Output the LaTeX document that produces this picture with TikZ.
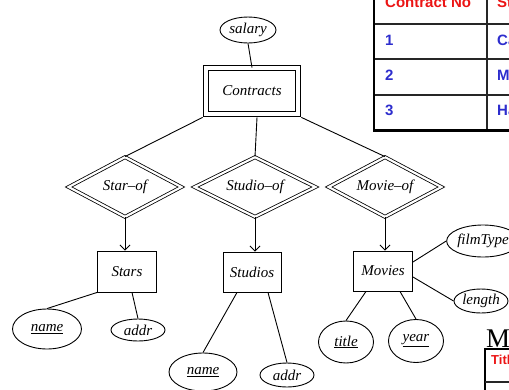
\documentclass[tikz,border=0pt]{standalone}
\usepackage{fontspec}
\newfontfamily\tabfont{Liberation Sans}
\newfontfamily\timesfont[Ligatures=TeX]{Liberation Serif}
\usetikzlibrary{shapes.geometric,arrows.meta}
\definecolor{tabred}{RGB}{235,20,20}
\definecolor{tabblue}{RGB}{45,45,205}
\begin{document}
\begin{tikzpicture}[x=1pt,y=-1pt,
  er/.style={font=\timesfont\fontsize{15}{17}\selectfont\itshape, inner sep=0pt},
  attr/.style={er, ellipse, draw, line width=0.9pt},
  ent/.style={er, rectangle, draw, line width=0.9pt},
  rel/.style={er, diamond, draw, double, double distance=2.2pt, line width=0.8pt, aspect=2},
  contract/.style={er, rectangle, draw, double, double distance=4.5pt, line width=0.8pt},
  link/.style={line width=0.9pt},
  isa/.style={link, -{Straight Barb[length=5pt,width=10pt]}},
  th/.style={font=\tabfont\bfseries\fontsize{15}{17}\selectfont, text=tabred, anchor=base west, inner sep=0pt},
  td/.style={font=\tabfont\bfseries\fontsize{15}{17}\selectfont, text=tabblue, anchor=base west, inner sep=0pt},
  thin grid/.style={line width=1.2pt, draw=black!85},
  thick grid/.style={line width=2.2pt, draw=black}
]
\useasboundingbox (0,0) rectangle (509,389);
\clip (0,0) rectangle (509,389);

% ---------- ER diagram ----------
\node[attr, minimum width=56, minimum height=26] (salary) at (248,30) {salary};
\node[contract, minimum width=92, minimum height=46] (contracts) at (252,91) {Contracts};

\node[rel, minimum width=113, minimum height=60] (starof) at (125,187) {Star\textendash of};
\node[rel, minimum width=121, minimum height=60] (studioof) at (255,187) {Studio\textendash of};
\node[rel, minimum width=113, minimum height=60] (movieof) at (385,187) {Movie\textendash of};

\node[ent, minimum width=59, minimum height=41] (stars) at (127,271.5) {Stars};
\node[ent, minimum width=58, minimum height=40] (studios) at (252,272) {Studios};
\node[ent, minimum width=59, minimum height=40] (movies) at (383,271) {Movies};

\node[attr, minimum width=69, minimum height=40] (sname) at (47,329) {\underline{name}};
\node[attr, minimum width=54, minimum height=22] (saddr) at (138,330) {addr};
\node[attr, minimum width=68, minimum height=38] (stname) at (203,372) {\underline{name}};
\node[attr, minimum width=54, minimum height=24] (staddr) at (287,375) {addr};
\node[attr, minimum width=55, minimum height=42] (title) at (346,342) {\underline{title}};
\node[attr, minimum width=55, minimum height=43] (year) at (416,341) {\underline{year}};
\node[attr, minimum width=54, minimum height=24] (length) at (481,301) {length};
\node[attr, minimum width=70, minimum height=32] (filmtype) at (483,241) {filmType};

\draw[link] (salary.south) -- (contracts.north);
\draw[link] ([shift={(-3,3)}]contracts.south west) -- (starof.north);
\draw[link] ([shift={(5,3)}]contracts.south) -- (studioof.north);
\draw[link] ([shift={(3,3)}]contracts.south east) -- (movieof.north);

\draw[isa] (starof.south) -- (starof.south |- stars.north);
\draw[isa] (studioof.south) -- (studioof.south |- studios.north);
\draw[isa] (movieof.south) -- (movieof.south |- movies.north);

\draw[link] (stars.south west) -- (sname.north);
\draw[link] ([xshift=5pt]stars.south) -- (saddr.north);
\draw[link] ([xshift=-15pt]studios.south) -- (stname.north);
\draw[link] ([xshift=16pt]studios.south) -- (staddr.north);
\draw[link] ([xshift=-17pt]movies.south) -- (title.north);
\draw[link] ([xshift=17pt]movies.south) -- (year.north);
\draw[link] ([yshift=-6pt]movies.east) -- (length.west);
\draw[link] ([yshift=9pt]movies.east) -- (filmtype.west);

% ---------- table top right (cropped) ----------
\node[th] (h1) at (385,7) {Contract No};
\node[th] (h2) at (497,7) {Star};
\node[td] (r1a) at (385,45) {1};
\node[td] (r1b) at (497,45) {Carrie};
\node[td] (r2a) at (385,80) {2};
\node[td] (r2b) at (497,80) {Mark};
\node[td] (r3a) at (385,115) {3};
\node[td] (r3b) at (497,115) {Harrison};
\draw[thin grid] (374,24) -- (520,24);
\draw[thin grid] (374,59) -- (520,59);
\draw[thin grid] (374,95) -- (520,95);
\draw[thin grid] (487,-5) -- (487,130);
\draw[thick grid] (374,-5) -- (374,131);
\draw[thick grid] (373,130.5) -- (520,130.5);

% ---------- bottom right (cropped) ----------
\node[font=\timesfont\fontsize{27}{30}\selectfont, anchor=base west, inner sep=0pt] (mtitle) at (486,347) {M};
\draw[thick grid] (485,349) -- (485,395);
\draw[thick grid] (484,349) -- (520,349);
\draw[thin grid] (485,382) -- (520,382);
\node[font=\tabfont\bfseries\fontsize{13}{15}\selectfont, text=tabred, anchor=base west, inner sep=0pt] (tcol) at (491,364) {Title};
\end{tikzpicture}
\end{document}
